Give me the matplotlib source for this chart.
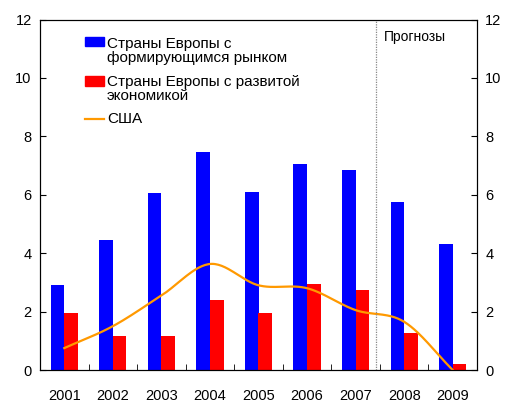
import matplotlib.pyplot as plt
from matplotlib.patches import Rectangle
from matplotlib.lines import Line2D
import numpy as np

plt.rcParams['font.family'] = ['Liberation Sans', 'DejaVu Sans']

years = ['2001', '2002', '2003', '2004', '2005', '2006', '2007', '2008', '2009']
emerging = [2.9, 4.45, 6.05, 7.45, 6.1, 7.05, 6.85, 5.75, 4.3]
developed = [1.95, 1.15, 1.15, 2.4, 1.95, 2.95, 2.75, 1.25, 0.2]
usa = [0.75, 1.5, 2.55, 3.63, 2.9, 2.8, 2.05, 1.65, 0.0]
labels = ['Страны Европы с\nформирующимся рынком',
          'Страны Европы с развитой\nэкономикой',
          'США']


def smooth(x, y, n=30):
    # Catmull-Rom spline, like Excel's smoothed line
    x = np.asarray(x, float)
    y = np.asarray(y, float)
    px = np.concatenate([[2 * x[0] - x[1]], x, [2 * x[-1] - x[-2]]])
    py = np.concatenate([[2 * y[0] - y[1]], y, [2 * y[-1] - y[-2]]])
    xs, ys = [], []
    t = np.linspace(0, 1, n)
    for i in range(1, len(px) - 2):
        for p, out in ((px, xs), (py, ys)):
            p0, p1, p2, p3 = p[i - 1], p[i], p[i + 1], p[i + 2]
            out.extend(0.5 * (2 * p1 + (-p0 + p2) * t
                              + (2 * p0 - 5 * p1 + 4 * p2 - p3) * t ** 2
                              + (-p0 + 3 * p1 - 3 * p2 + p3) * t ** 3))
    return np.array(xs), np.array(ys)


W, H = 508, 403
fig = plt.figure(figsize=(W / 100, H / 100), dpi=100)
ax = fig.add_axes([40 / W, 1 - 370 / H, 437 / W, 350.5 / H])

x = np.arange(len(years))
w = 0.28
ax.bar(x - w / 2, emerging, w, color='#0000ff')
ax.bar(x + w / 2, developed, w, color='#ff0000')
sx, sy = smooth(x, usa)
ax.plot(sx, sy, color='#ff9900', lw=1.6)

ax.axvline(6.42, color='#888888', lw=0.9, ls=(0, (1, 1)))
ax.text(6.58, 11.4, 'Прогнозы', fontsize=10, va='center', ha='left')

ax.set_xlim(-0.5, 8.5)
ax.set_ylim(0, 12)
ax.set_yticks(range(0, 13, 2))
ax.set_xticks(x)
ax.set_xticklabels(years)
ax.set_xticks(np.arange(0.5, 8, 1), minor=True)
ax.tick_params(axis='x', which='major', length=0, pad=14, labelsize=10.5)
ax.tick_params(axis='x', which='minor', direction='in', length=4)
ax.tick_params(axis='y', direction='in', length=4, labelsize=10.5, pad=6)

ax2 = ax.twinx()
ax2.set_ylim(0, 12)
ax2.set_yticks(range(0, 13, 2))
ax2.tick_params(axis='y', direction='in', length=4, labelsize=10.5, pad=6)

# legend drawn by hand so the swatch sits on the first text line
def fx(px):
    return px / W


def fy(py):
    return 1 - py / H


fig.patches.append(Rectangle((fx(85), fy(46)), 19 / W, 9.5 / H, color='#0000ff',
                             transform=fig.transFigure, figure=fig))
fig.patches.append(Rectangle((fx(85), fy(85.5)), 19 / W, 9.5 / H, color='#ff0000',
                             transform=fig.transFigure, figure=fig))
fig.lines.append(Line2D([fx(85), fx(104)], [fy(118.5), fy(118.5)], color='#ff9900',
                        lw=1.6, transform=fig.transFigure, figure=fig))
for lab, py in zip(labels, [51, 89, 119]):
    fig.text(fx(107), fy(py), lab, fontsize=11, va='center', ha='left', linespacing=1.05)

fig.savefig('out.png', dpi=100)
